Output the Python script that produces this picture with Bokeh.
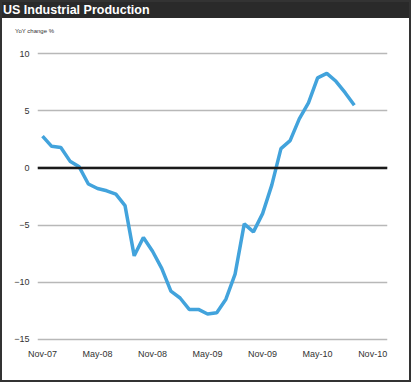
from bokeh.plotting import figure
from bokeh.layouts import column
from bokeh.models import Range1d, FixedTicker, Span, Div
from bokeh.embed import file_html
from bokeh.resources import INLINE

# ---- data ----
months = ["Nov-07", "Dec-07", "Jan-08", "Feb-08", "Mar-08", "Apr-08", "May-08",
          "Jun-08", "Jul-08", "Aug-08", "Sep-08", "Oct-08", "Nov-08", "Dec-08",
          "Jan-09", "Feb-09", "Mar-09", "Apr-09", "May-09", "Jun-09", "Jul-09",
          "Aug-09", "Sep-09", "Oct-09", "Nov-09", "Dec-09", "Jan-10", "Feb-10",
          "Mar-10", "Apr-10", "May-10", "Jun-10", "Jul-10", "Aug-10", "Sep-10"]
yoy_change = [2.8, 1.9, 1.8, 0.6, 0.1, -1.4, -1.8, -2.0, -2.3, -3.3, -7.7, -6.1,
              -7.3, -8.8, -10.8, -11.4, -12.4, -12.4, -12.8, -12.7, -11.5, -9.3,
              -4.9, -5.6, -4.0, -1.5, 1.7, 2.4, 4.3, 5.7, 7.9, 8.3, 7.6, 6.6, 5.5]
tick_labels = ["Nov-07", "May-08", "Nov-08", "May-09", "Nov-09", "May-10", "Nov-10"]
y_ticks = [-15, -10, -5, 0, 5, 10]
title_text = "US Industrial Production"
unit_text = "YoY change %"

x = list(range(len(yoy_change)))
tick_pos = [6 * i for i in range(len(tick_labels))]

FONT = "Liberation Sans"

title_bar = Div(
    text=title_text, height=18, sizing_mode="stretch_width", margin=(0, 0, 0, 0),
    styles={"box-sizing": "border-box", "background-color": "#2a2a2a",
            "border": "2px solid #333", "border-bottom": "none",
            "color": "white", "font-family": FONT, "font-weight": "bold",
            "font-size": "12.5px", "line-height": "16px", "padding-left": "1px",
            "overflow": "hidden"})

unit_bar = Div(
    text=unit_text, height=18, sizing_mode="stretch_width", margin=(0, 0, 0, 0),
    styles={"box-sizing": "border-box", "background-color": "white",
            "border-left": "2px solid #333", "border-right": "2px solid #333",
            "color": "#333333", "font-family": FONT, "font-size": "6px",
            "line-height": "7px", "padding-left": "13px", "padding-top": "10px",
            "overflow": "hidden"})

p = figure(width=411, height=346, output_backend="svg", toolbar_location=None,
           x_range=Range1d(-0.545, 37.62), y_range=Range1d(-15.3, 10.3),
           min_border_left=35, min_border_right=26, min_border_top=14,
           min_border_bottom=40, margin=(0, 0, 0, 0))
p.outline_line_color = None
p.background_fill_color = "white"
p.border_fill_color = "white"
p.styles = {"box-sizing": "border-box", "border": "2px solid #333", "border-top": "none"}

p.line(x, yoy_change, line_color="#42A3DC", line_width=3.5)

# axes
p.xaxis.ticker = FixedTicker(ticks=tick_pos)
p.xaxis.major_label_overrides = {tp: lab for tp, lab in zip(tick_pos, tick_labels)}
p.yaxis.ticker = FixedTicker(ticks=y_ticks)
for ax in (p.xaxis[0], p.yaxis[0]):
    ax.axis_line_color = None
    ax.major_tick_line_color = None
    ax.minor_tick_line_color = None
    ax.major_tick_out = 0
    ax.major_tick_in = 0
    ax.major_label_text_font = FONT
    ax.major_label_text_font_size = "9px"
    ax.major_label_text_color = "#333333"
p.xaxis.major_label_standoff = 6
p.yaxis.major_label_standoff = 8

p.xgrid.grid_line_color = None
p.ygrid.ticker = FixedTicker(ticks=y_ticks)
p.ygrid.grid_line_color = "#B8B8B8"
p.ygrid.grid_line_width = 1.5

p.add_layout(Span(location=0, dimension="width", line_color="#1a1a1a", line_width=2.5))

layout = column(title_bar, unit_bar, p, spacing=0, width=411, margin=(0, 0, 0, 0))

open("out.html", "w").write(file_html(layout, INLINE))
